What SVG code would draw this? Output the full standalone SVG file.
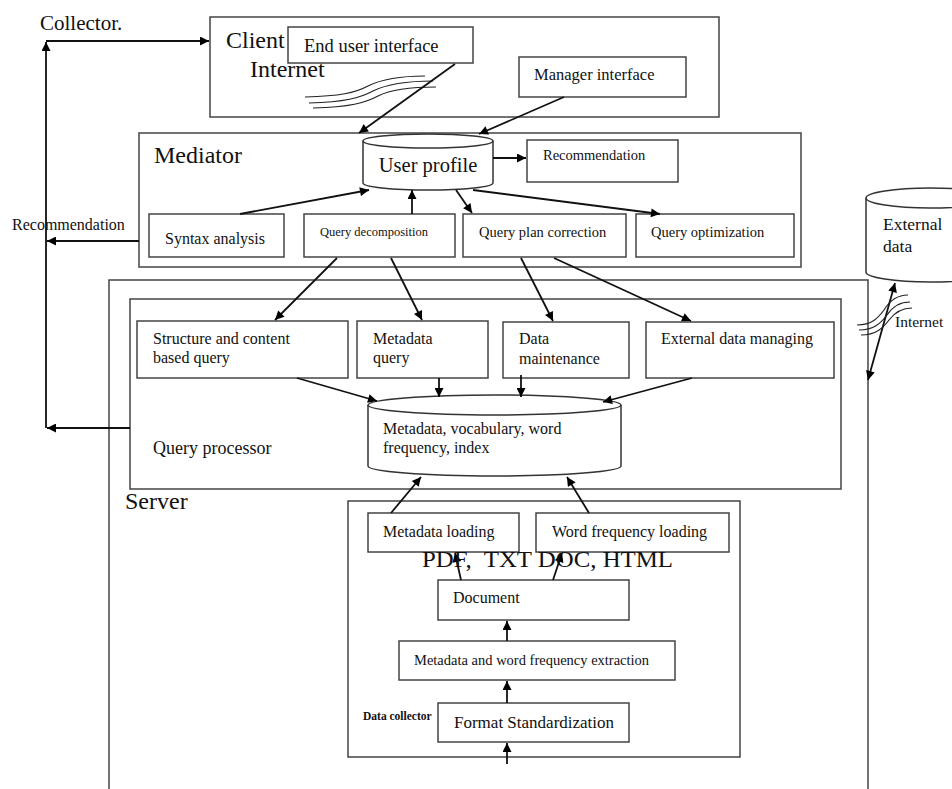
<svg xmlns="http://www.w3.org/2000/svg" width="952" height="789" viewBox="0 0 952 789">
  <defs>
    <marker id="ah" viewBox="0 0 10 10" refX="10" refY="5" markerWidth="11" markerHeight="9" markerUnits="userSpaceOnUse" orient="auto-start-reverse">
      <path d="M0,0 L10,5 L0,10 z" fill="#000"/>
    </marker>
  </defs>
  <style>
    text { font-family: "Liberation Serif", "Times New Roman", serif; fill: #111; }
    .box { fill: #fff; stroke: #444; stroke-width: 1.5; }
    .frame { fill: none; stroke: #444; stroke-width: 1.5; }
    .cyl { fill: #fff; stroke: #333; stroke-width: 1.5; }
    .arr { fill: none; stroke: #111; stroke-width: 1.8; marker-end: url(#ah); }
    .both { fill: none; stroke: #111; stroke-width: 1.8; marker-start: url(#ah); marker-end: url(#ah); }
    .wave { fill: none; stroke: #222; stroke-width: 1.2; }
  </style>
  <rect width="952" height="789" fill="#fff"/>

  <!-- outer containers -->
  <g id="server">
    <path class="frame" d="M109,789 V280 H868 V789"/>
    <text x="125" y="509" font-size="24">Server</text>
  </g>
  <g id="client">
    <rect class="frame" x="210" y="17" width="509" height="100"/>
    <text x="226" y="48" font-size="24">Client</text>
    <text x="250" y="77" font-size="24">Internet</text>
    <path class="wave" d="M305,97 C340,96 355,93 368,86 C382,79 398,76 425,76"/>
    <path class="wave" d="M309,103 C345,102 360,98 373,91 C387,84 405,81 433,81"/>
    <path class="wave" d="M313,108 C350,107 365,103 378,96 C392,89 410,87 436,87"/>
  </g>
  <g id="mediator">
    <rect class="frame" x="139" y="133" width="662" height="134"/>
    <text x="154" y="163" font-size="24">Mediator</text>
  </g>
  <g id="query-processor">
    <rect class="frame" x="130" y="299" width="711" height="190"/>
    <text x="153" y="454" font-size="18">Query processor</text>
  </g>
  <g id="data-collector">
    <rect class="frame" x="348" y="501" width="392" height="256"/>
    <text x="363" y="720" font-size="11.5" font-weight="bold">Data collector</text>
  </g>

  <!-- client nodes -->
  <g id="end-user-interface">
    <rect class="box" x="288" y="27" width="185" height="36"/>
    <text x="304" y="52" font-size="18.5">End user interface</text>
  </g>
  <g id="manager-interface">
    <rect class="box" x="519" y="57" width="167" height="40"/>
    <text x="534" y="80" font-size="16.5">Manager interface</text>
  </g>

  <!-- mediator nodes -->
  <g id="user-profile">
    <path class="cyl" d="M363,141 A65,7 0 0 1 493,141 L493,183 A65,7 0 0 1 363,183 Z"/>
    <path class="cyl" fill="none" d="M363,141 A65,7 0 0 0 493,141"/>
    <text x="428" y="172" font-size="20.5" text-anchor="middle">User profile</text>
  </g>
  <g id="recommendation">
    <rect class="box" x="527" y="140" width="151" height="42"/>
    <text x="543" y="160" font-size="14.5">Recommendation</text>
  </g>
  <g id="syntax-analysis">
    <rect class="box" x="149" y="214" width="135" height="43"/>
    <text x="165" y="244" font-size="16">Syntax analysis</text>
  </g>
  <g id="query-decomposition">
    <rect class="box" x="304" y="214" width="151" height="43"/>
    <text x="320" y="236" font-size="12.5">Query decomposition</text>
  </g>
  <g id="query-plan-correction">
    <rect class="box" x="463" y="214" width="163" height="43"/>
    <text x="479" y="237" font-size="14.5">Query plan correction</text>
  </g>
  <g id="query-optimization">
    <rect class="box" x="636" y="214" width="158" height="43"/>
    <text x="651" y="237" font-size="14.5">Query optimization</text>
  </g>

  <!-- query processor nodes -->
  <g id="structure-content-query">
    <rect class="box" x="137" y="321" width="211" height="57"/>
    <text x="153" y="344" font-size="16">Structure and content</text>
    <text x="153" y="363" font-size="16">based query</text>
  </g>
  <g id="metadata-query">
    <rect class="box" x="357" y="321" width="131" height="57"/>
    <text x="373" y="344" font-size="16">Metadata</text>
    <text x="373" y="363" font-size="16">query</text>
  </g>
  <g id="data-maintenance">
    <rect class="box" x="503" y="322" width="126" height="56"/>
    <text x="519" y="344" font-size="16">Data</text>
    <text x="519" y="364" font-size="16">maintenance</text>
  </g>
  <g id="external-data-managing">
    <rect class="box" x="646" y="322" width="188" height="56"/>
    <text x="661" y="344" font-size="16">External data managing</text>
  </g>
  <g id="metadata-store">
    <path class="cyl" d="M368,405 A126.5,10 0 0 1 621,405 L621,466 A126.5,10 0 0 1 368,466 Z"/>
    <path class="cyl" fill="none" d="M368,405 A126.5,10 0 0 0 621,405"/>
    <text x="383" y="434" font-size="16">Metadata, vocabulary, word</text>
    <text x="383" y="453" font-size="16">frequency, index</text>
  </g>

  <!-- data collector nodes -->
  <g id="metadata-loading">
    <rect class="box" x="368" y="513" width="151" height="39"/>
    <text x="383" y="537" font-size="16">Metadata loading</text>
  </g>
  <g id="word-frequency-loading">
    <rect class="box" x="536" y="513" width="193" height="39"/>
    <text x="552" y="537" font-size="16">Word frequency loading</text>
  </g>
  <g id="document">
    <rect class="box" x="438" y="580" width="191" height="40"/>
    <text x="453" y="603" font-size="16">Document</text>
  </g>
  <g id="extraction">
    <rect class="box" x="399" y="641" width="276" height="39"/>
    <text x="414" y="665" font-size="14.5">Metadata and word frequency extraction</text>
  </g>
  <g id="format-standardization">
    <rect class="box" x="438" y="703" width="191" height="39"/>
    <text x="454" y="728" font-size="17">Format Standardization</text>
  </g>

  <!-- external source -->
  <g id="external-data">
    <path class="cyl" d="M866,198 A64,10 0 0 1 994,198 L994,272 A64,10 0 0 1 866,272 Z"/>
    <path class="cyl" fill="none" d="M866,198 A64,10 0 0 0 994,198"/>
    <text x="883" y="230" font-size="17.5">External</text>
    <text x="883" y="252" font-size="17.5">data</text>
  </g>

  <!-- collector feedback loop -->
  <g id="collector">
    <text x="40" y="30" font-size="21">Collector.</text>
    <text x="12" y="230" font-size="16">Recommendation</text>
  </g>

  <!-- connectors -->
  <g id="connectors">
    <path class="arr" d="M46,428 V42"/>
    <path class="arr" d="M46,41 H209"/>
    <path class="arr" d="M139,241 H47"/>
    <path class="arr" d="M130,428 H47"/>

    <path class="arr" d="M455,64 L359,133"/>
    <path class="arr" d="M564,97 L479,134"/>

    <path class="arr" d="M493,158 H526"/>
    <path class="arr" d="M240,214 L369,190"/>
    <path class="arr" d="M412,214 V190"/>
    <path class="arr" d="M456,190 L472,213"/>
    <path class="arr" d="M473,190 L660,214"/>

    <path class="arr" d="M337,258 L275,320"/>
    <path class="arr" d="M391,258 L422,320"/>
    <path class="arr" d="M521,258 L553,321"/>
    <path class="arr" d="M554,258 L691,321"/>

    <path class="arr" d="M297,378 L377,401"/>
    <path class="arr" d="M439,378 V397"/>
    <path class="arr" d="M521,375 V397"/>
    <path class="arr" d="M692,378 L603,402"/>

    <path class="arr" d="M391,513 L421,477"/>
    <path class="arr" d="M589,513 L567,477"/>

    <path class="arr" d="M461,580 L455,553"/>
    <path class="arr" d="M553,580 L562,553"/>
    <path class="arr" d="M507,641 V621"/>
    <path class="arr" d="M507,703 V681"/>
    <path class="arr" d="M507,764 V743"/>

    <path class="both" d="M895,283 L868,380"/>
    <path class="wave" d="M857,325 C872,325 878,318 884,310 C890,300 898,295 908,295"/>
    <path class="wave" d="M859,330 C874,330 881,323 887,315 C893,306 900,302 910,302"/>
    <path class="wave" d="M861,335 C876,335 883,328 889,320 C895,312 902,308 912,308"/>
    <text x="895" y="327" font-size="15.5">Internet</text>
  </g>

  <!-- format list overlaid on the loading stage -->
  <text x="422" y="567" font-size="23" fill="#222" textLength="251" lengthAdjust="spacingAndGlyphs" xml:space="preserve">PDF,  TXT DOC, HTML</text>
</svg>
